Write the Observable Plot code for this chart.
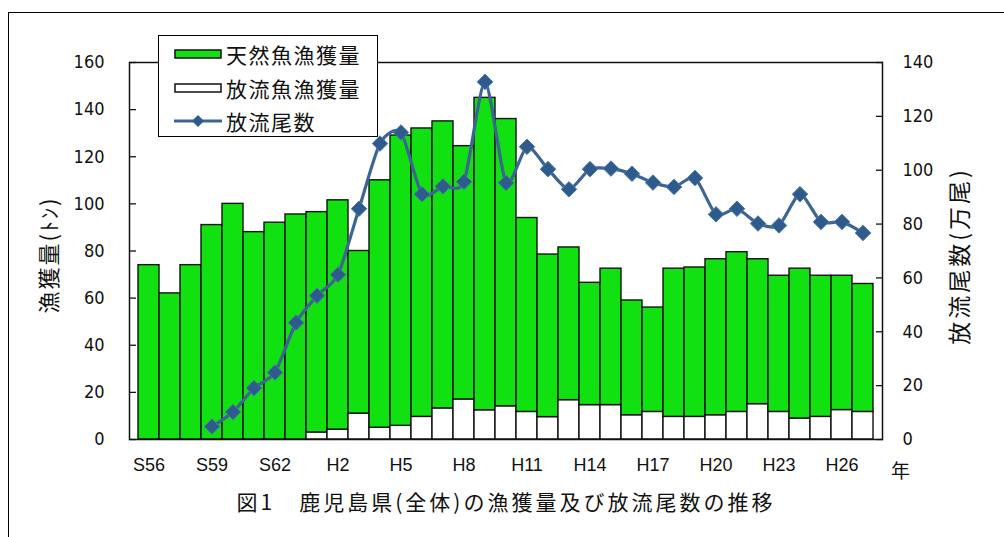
<!DOCTYPE html>
<html>
<head>
<meta charset="utf-8">
<script src="https://cdn.jsdelivr.net/npm/d3@7"></script>
<script src="https://cdn.jsdelivr.net/npm/@observablehq/plot@0.6"></script>
<style>
  html, body { margin: 0; padding: 0; background: #fff; }
  #wrap { position: relative; width: 1004px; height: 537px; overflow: hidden; background: #fff;
          font-family: "Noto Sans CJK JP", "Noto Sans", sans-serif; color: #111; }
  #frame { position: absolute; left: 8px; top: 12px; width: 1010px; height: 540px;
           border-left: 1.5px solid #000; border-top: 1.5px solid #000; box-sizing: border-box; }
  #chart { position: absolute; left: 0; top: 0; }
  #legend { position: absolute; left: 158px; top: 35px; width: 220px; height: 102px; background: #fff;
            border: 1.5px solid #000; box-sizing: border-box; }
  .lg-row { position: absolute; left: 15px; height: 30px; display: flex; align-items: center; }
  .lg-row span { font-size: 21px; margin-left: 4px; letter-spacing: 1.5px; }
  #ytitleL { position: absolute; left: 47px; top: 255px; transform: translate(-50%, -50%) rotate(-90deg);
             font-size: 22px; letter-spacing: 2px; white-space: nowrap; }
  #ytitleR { position: absolute; left: 958px; top: 256px; transform: translate(-50%, -50%) rotate(-90deg);
             font-size: 23px; letter-spacing: 3px; white-space: nowrap; }
  #nen { position: absolute; left: 891px; top: 456px; font-size: 19px; }
  #caption { position: absolute; left: 0; width: 1012px; top: 486px; text-align: center; font-size: 21px; letter-spacing: 3px; }
</style>
</head>
<body>
<div id="wrap">
  <div id="frame"></div>
  <div id="chart"></div>
  <div id="ytitleL">漁獲量(ﾄﾝ)</div>
  <div id="ytitleR">放流尾数(万尾)</div>
  <div id="nen">年</div>
  <div id="caption">図1　鹿児島県(全体)の漁獲量及び放流尾数の推移</div>
  <div id="legend"></div>
</div>
<script>
// ---- data ----
const years = ["S56","S57","S58","S59","S60","S61","S62","S63",
  "H1","H2","H3","H4","H5","H6","H7","H8","H9","H10","H11","H12","H13","H14","H15","H16",
  "H17","H18","H19","H20","H21","H22","H23","H24","H25","H26","H27"];
const tickLabels = ["S56","S59","S62","H2","H5","H8","H11","H14","H17","H20","H23","H26"];
const seriesNames = ["天然魚漁獲量","放流魚漁獲量","放流尾数"];
// 天然魚漁獲量 (トン)
const naturalCatch = [74,62,74,91,100,88,92,95.5,93.5,97.3,69,105,123.2,122.4,121.8,107.5,132.6,121.9,
  82.3,69,64.8,51.9,57.9,48.7,44.3,62.9,63.4,66.2,67.8,61.5,57.8,63.6,59.9,57,54.3];
// 放流魚漁獲量 (トン)
const releasedCatch = [0,0,0,0,0,0,0,0,3,4.2,11,5,5.8,9.6,13.2,17,12.4,14.1,
  11.7,9.5,16.7,14.6,14.6,10.3,11.7,9.6,9.6,10.3,11.7,15,11.7,8.9,9.6,12.5,11.7];
// 放流尾数 (万尾)
const releasedCount = [null,null,null,4.8,10.2,19.1,24.9,43.4,53.4,61.2,85.7,109.9,114,91.1,94,95.7,132.8,95.3,
  108.7,100.4,92.9,100.4,100.6,98.7,95.4,93.8,97.1,83.6,85.7,80.2,79.5,91.1,80.8,80.8,76.7];
const leftTicks = [0,20,40,60,80,100,120,140,160];
const rightTicks = [0,20,40,60,80,100,120,140];

// ---- build ----
const GREEN = "#11e011", LINE = "#3d6593", MARK = "#2f5a8c";
const leftMax = 160, rightMax = 140, k = leftMax / rightMax;

const barData = [];
years.forEach((y, i) => {
  barData.push({year: y, kind: seriesNames[1], value: releasedCatch[i]});
  barData.push({year: y, kind: seriesNames[0], value: naturalCatch[i]});
});
const lineData = years.map((y, i) => ({year: y, v: releasedCount[i]})).filter(d => d.v != null);

const numFont = "'Liberation Sans Narrow', 'DejaVu Sans Condensed', 'Liberation Sans', Arial, sans-serif";

const chart = Plot.plot({
  width: 1004,
  height: 480,
  marginLeft: 129,
  marginRight: 122,
  marginTop: 62,
  marginBottom: 41,
  style: {background: "transparent", color: "#111", overflow: "visible"},
  x: {type: "band", domain: years, paddingInner: 0, paddingOuter: 0, axis: null},
  y: {domain: [0, leftMax], axis: null},
  color: {domain: [seriesNames[0], seriesNames[1]], range: [GREEN, "#ffffff"]},
  marks: [
    Plot.barY(barData, Plot.stackY({x: "year", y: "value", fill: "kind", stroke: "#111", strokeWidth: 1.4, inset: 0, order: null})),
    Plot.line(lineData, {x: "year", y: d => d.v * k, stroke: LINE, strokeWidth: 3.2, curve: "cardinal", tension: 0.3}),
    Plot.dot(lineData, {x: "year", y: d => d.v * k, symbol: "diamond2", r: 7, fill: MARK, stroke: "#4a78a8", strokeWidth: 1}),
    Plot.frame({stroke: "#111", strokeWidth: 1.5}),
    // inward tick marks
    Plot.axisY(leftTicks, {anchor: "left", tickSize: 7, insetLeft: 7, fill: "none", stroke: "#111", strokeWidth: 1.3, label: null}),
    Plot.axisY(rightTicks.map(d => d * k), {anchor: "right", tickSize: 7, insetRight: 7, fill: "none", stroke: "#111", strokeWidth: 1.3, label: null}),
    // tick labels
    Plot.axisY(leftTicks, {anchor: "left", tickSize: 0, tickPadding: 25, label: null,
      fontSize: 18, fontFamily: numFont}),
    Plot.axisY(rightTicks.map(d => d * k), {anchor: "right", tickSize: 0, tickPadding: 20, label: null,
      tickFormat: d => String(Math.round(d / k)), fontSize: 18, fontFamily: numFont}),
    Plot.axisX(tickLabels, {anchor: "bottom", tickSize: 0, tickPadding: 19, label: null,
      fontSize: 18, fontFamily: "'Liberation Sans', Arial, sans-serif", letterSpacing: "2.5px"})
  ]
});
document.getElementById("chart").appendChild(chart);

// ---- legend ----
const legend = document.getElementById("legend");
const rows = [
  {name: seriesNames[0], svg: `<rect x="1" y="11" width="46" height="8" fill="${GREEN}" stroke="#111" stroke-width="1.5"/>`},
  {name: seriesNames[1], svg: `<rect x="1" y="11" width="46" height="8" fill="#fff" stroke="#111" stroke-width="1.5"/>`},
  {name: seriesNames[2], svg: `<line x1="0" y1="15" x2="48" y2="15" stroke="${LINE}" stroke-width="3"/><path d="M24,9L30,15L24,21L18,15Z" fill="${MARK}"/>`}
];
rows.forEach((r, i) => {
  const div = document.createElement("div");
  div.className = "lg-row";
  div.style.top = (3 + i * 33.5) + "px";
  div.innerHTML = `<svg width="48" height="30">${r.svg}</svg><span>${r.name}</span>`;
  legend.appendChild(div);
});
</script>
</body>
</html>
